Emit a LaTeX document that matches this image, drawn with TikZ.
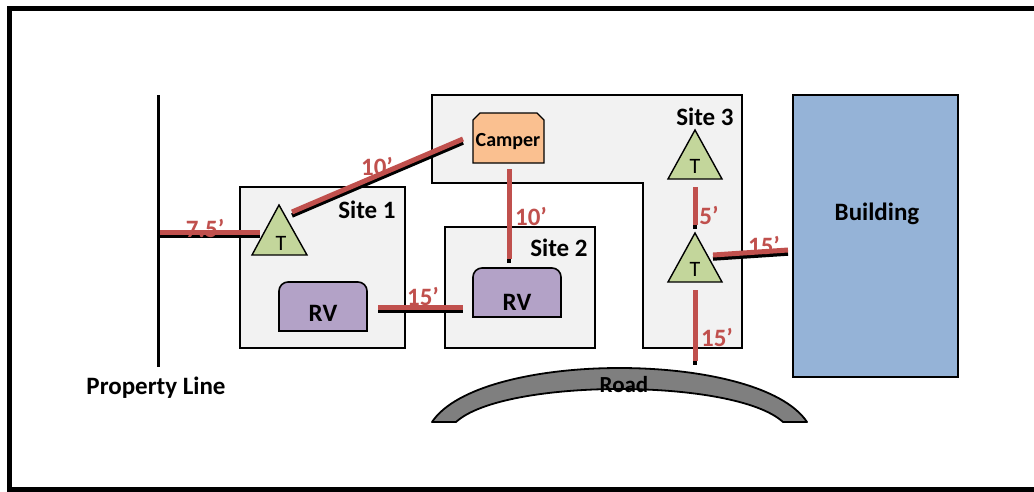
\documentclass[tikz,border=0pt]{standalone}
\usepackage{fontspec}
\setmainfont{Carlito}
\definecolor{sitegray}{HTML}{F2F2F2}
\definecolor{tentgreen}{HTML}{C3D69B}
\definecolor{rvpurple}{HTML}{B3A2C7}
\definecolor{camporange}{HTML}{FAC090}
\definecolor{bldblue}{HTML}{95B3D7}
\definecolor{dimred}{HTML}{C0504D}
\definecolor{roadgray}{HTML}{7F7F7F}
\begin{document}
\begin{tikzpicture}[x=1pt,y=-1pt,
  sitebox/.style={draw=black, line width=1.6pt, fill=sitegray, inner sep=0pt, outer sep=0pt, anchor=north west},
  tentshape/.style={draw=black, line width=1.4pt, fill=tentgreen, line join=miter},
  rvshape/.style={draw=black, line width=1.6pt, fill=rvpurple},
  campshape/.style={draw=black, line width=1.4pt, fill=camporange},
  lbl/.style={font=\fontsize{25}{30}\selectfont\bfseries, inner sep=0pt},
  tlbl/.style={font=\fontsize{22}{26}\selectfont, inner sep=0pt},
  camplbl/.style={font=\fontsize{20}{24}\selectfont\bfseries, inner sep=0pt},
  dimlbl/.style={lbl, text=dimred},
  shadowbar/.style={draw=black, line width=4.5pt},
  redbar/.style={draw=dimred, line width=5pt}]
\newcommand\dimbar[2]{\draw[shadowbar] ([yshift=-3.5pt]#1) -- ([yshift=-3.5pt]#2); \draw[redbar] (#1) -- (#2);}
\useasboundingbox (0,0) rectangle (1034,491);
% frame
\draw[line width=4.5pt, line join=miter] (1040,8.5) -- (9.5,8.5) -- (9.5,489.5) -- (1040,489.5);
% property line
\coordinate (pltop) at (158,95);
\coordinate (plbot) at (158,367);
\draw[line width=3pt] (pltop) -- (plbot);
\node[lbl] (plabel) at (156,388) {Property Line};
% sites
\node[sitebox, minimum width=165, minimum height=161] (site1) at (240,187) {};
\node[sitebox, minimum width=150, minimum height=121] (site2) at (445,227) {};
\draw[draw=black, line width=1.6pt, fill=sitegray] (432,95) -- (742,95) -- (742,348) -- (643,348) -- (643,183) -- (432,183) -- cycle;
\node[lbl] (s1lbl) at (367,210) {Site 1};
\node[lbl] (s2lbl) at (559,248) {Site 2};
\node[lbl] (s3lbl) at (705,117) {Site 3};
% building
\node[sitebox, fill=bldblue, minimum width=165, minimum height=282] (bldg) at (793,95) {};
\node[lbl] (bldlbl) at (877,214) {Building};
% road
\draw[draw=black, line width=1.8pt, fill=roadgray, line join=round]
  (432,422) .. controls (480,350) and (759,350) .. (807,422) -- (783,422)
  .. controls (735,378) and (504,378) .. (456,422) -- cycle;
\node[lbl, font=\fontsize{23}{28}\selectfont\bfseries] (roadlbl) at (624,385) {Road};
% camper
\draw[campshape] (473,163) -- (473,120) -- (480,113) -- (537,113) -- (544,120) -- (544,163) -- cycle;
\node[camplbl] (camper) at (508,142) {Camper};
% RVs
\draw[rvshape] (279,331) -- (279,291) arc[start angle=180, end angle=270, radius=9] -- (358,282) arc[start angle=270, end angle=360, radius=9] -- (367,331) -- cycle;
\node[lbl] (rv1) at (323,313) {RV};
\draw[rvshape] (473,317) -- (473,277) arc[start angle=180, end angle=270, radius=9] -- (552,268) arc[start angle=270, end angle=360, radius=9] -- (561,317) -- cycle;
\node[lbl] (rv2) at (517,302) {RV};
% tents
\draw[tentshape] (279,205) -- (307,255) -- (252,255) -- cycle;
\node[tlbl] (t1) at (281,243) {T};
\draw[tentshape] (695,130) -- (722,179) -- (668,179) -- cycle;
\node[tlbl] (t3a) at (695,166) {T};
\draw[tentshape] (695,233) -- (722,282) -- (668,282) -- cycle;
\node[tlbl] (t3b) at (695,269) {T};
% dimension bars
\coordinate (a1) at (160,232); \coordinate (a2) at (260,232);
\coordinate (b1) at (292,212); \coordinate (b2) at (463,139);
\coordinate (c1) at (509,169); \coordinate (c2) at (509,259);
\coordinate (d1) at (378,307); \coordinate (d2) at (463,307);
\coordinate (e1) at (695,187); \coordinate (e2) at (695,225);
\coordinate (f1) at (713,255); \coordinate (f2) at (788,250);
\coordinate (g1) at (695,290); \coordinate (g2) at (695,361);
\dimbar{a1}{a2}
\dimbar{b1}{b2}
\dimbar{c1}{c2}
\dimbar{d1}{d2}
\dimbar{e1}{e2}
\dimbar{f1}{f2}
\dimbar{g1}{g2}
\node[dimlbl] (l75) at (205,228) {7.5’};
\node[dimlbl] (l10a) at (377,166) {10’};
\node[dimlbl] (l10b) at (531,216) {10’};
\node[dimlbl] (l15a) at (423,296) {15’};
\node[dimlbl] (l5) at (709,215) {5’};
\node[dimlbl] (l15b) at (764,245) {15’};
\node[dimlbl] (l15c) at (717,337) {15’};
\end{tikzpicture}
\end{document}
